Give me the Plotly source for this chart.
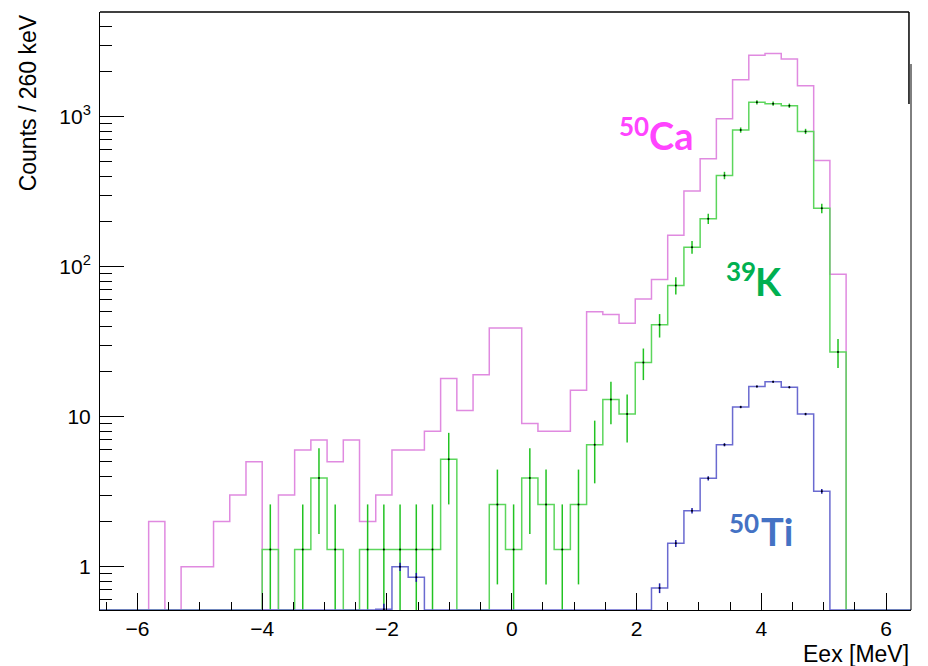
import numpy as np
import plotly.graph_objects as go

# ---------------- data ----------------
BIN_LO = -6.6          # MeV, lower edge of first bin
BIN_WIDTH = 0.26       # MeV (260 keV)
N_BINS = 50

# 50Ca counts per bin
ca50 = [0, 0, 0, 2, 0, 1, 1, 2, 3, 5,
        0, 3, 6, 7, 5, 7, 2, 3, 6, 6,
        8, 18, 11, 19, 39, 39, 9, 8, 8, 15,
        50, 48, 42, 61, 82, 162, 320, 525, 970, 1765,
        2564, 2643, 2425, 1610, 511, 89, 0, 0, 0, 0]

# 39K (weighted) counts per bin
k39 = [0, 0, 0, 0, 0, 0, 0, 0, 0, 0,
       1.3, 0, 1.3, 3.9, 1.3, 0, 1.3, 1.3, 1.3, 1.3,
       1.3, 5.2, 0, 0, 2.6, 1.3, 3.9, 2.6, 1.3, 2.6,
       6.5, 13, 10.4, 23, 41, 75, 135, 209, 406, 815,
       1247, 1221, 1184, 798, 245, 27, 0, 0, 0, 0]

# 50Ti (scaled) counts per bin
ti50 = [0, 0, 0, 0, 0, 0, 0, 0, 0, 0,
        0, 0, 0, 0, 0, 0, 0, 0.52, 1.0, 0.85,
        0, 0, 0, 0, 0, 0, 0, 0, 0, 0,
        0, 0, 0, 0, 0.72, 1.43, 2.36, 3.88, 6.5, 11.6,
        15.9, 17.1, 15.7, 10.4, 3.18, 0, 0, 0, 0, 0]

K39_WEIGHT = 1.3      # weight per entry of the 39K histogram
TI50_WEIGHT = 0.004   # weight per entry of the 50Ti histogram

x_ticks = [-6, -4, -2, 0, 2, 4, 6]
y_ticks = [1, 10, 100, 1000]
y_ticktext = ["1", "10", "10<sup>2</sup>", "10<sup>3</sup>"]

# ---------------- construction ----------------
Y_LOG_MIN, Y_LOG_MAX = -0.289, 3.698
floor_val = 10 ** Y_LOG_MIN

edges = BIN_LO + BIN_WIDTH * np.arange(N_BINS + 1)
centers = edges[:-1] + BIN_WIDTH / 2


def step_xy(vals):
    v = np.asarray(vals, float)
    v = np.where(v > 0, v, floor_val)
    return edges, np.append(v, v[-1])


def err_trace(vals, weight, color, name):
    v = np.asarray(vals, float)
    m = v > 0
    err = np.sqrt(v[m] * weight)
    lower = v[m] - np.maximum(v[m] - err, floor_val)
    return go.Scatter(
        x=centers[m], y=v[m], mode="markers", name=name, showlegend=False,
        marker=dict(size=2, color="black"),
        error_y=dict(type="data", array=err, arrayminus=lower, symmetric=False,
                     color=color, thickness=1.5, width=0),
        hoverinfo="skip")


fig = go.Figure()

CA_COL = "#e08ae0"
K_LINE = "#5cd65c"
K_ERR = "#22c322"
TI_LINE = "#6a6ad0"
TI_ERR = "#1a1aa8"

x, y = step_xy(ca50)
fig.add_trace(go.Scatter(x=x, y=y, mode="lines", line=dict(color=CA_COL, width=1.5, shape="hv"),
                         name="50Ca", showlegend=False))
x, y = step_xy(k39)
fig.add_trace(go.Scatter(x=x, y=y, mode="lines", line=dict(color=K_LINE, width=1.5, shape="hv"),
                         name="39K", showlegend=False))
fig.add_trace(err_trace(k39, K39_WEIGHT, K_ERR, "39K err"))
x, y = step_xy(ti50)
fig.add_trace(go.Scatter(x=x, y=y, mode="lines", line=dict(color=TI_LINE, width=1.5, shape="hv"),
                         name="50Ti", showlegend=False))
fig.add_trace(err_trace(ti50, TI50_WEIGHT, TI_ERR, "50Ti err"))

TICK_FONT = dict(family="Liberation Sans, Arial, sans-serif", size=21, color="black")
TITLE_FONT = dict(family="Liberation Sans, Arial, sans-serif", size=23, color="black")

fig.update_layout(
    width=928, height=666,
    margin=dict(l=100, r=17, t=12, b=56),
    paper_bgcolor="white", plot_bgcolor="white",
    showlegend=False,
    font=TICK_FONT,
    xaxis=dict(
        range=[BIN_LO, BIN_LO + N_BINS * BIN_WIDTH],
        tickmode="array", tickvals=x_ticks,
        ticks="inside", ticklen=17, tickwidth=1, tickcolor="black",
        minor=dict(dtick=0.5, tick0=0, ticks="inside", ticklen=8, tickwidth=1, tickcolor="black"),
        showline=True, linecolor="black", linewidth=1, mirror=False,
        showgrid=False, zeroline=False, tickfont=TICK_FONT,
        ticklabelstandoff=0,
    ),
    yaxis=dict(
        type="log", range=[Y_LOG_MIN, Y_LOG_MAX],
        tickmode="array", tickvals=y_ticks, ticktext=y_ticktext,
        ticks="inside", ticklen=24, tickwidth=1, tickcolor="black",
        minor=dict(tickmode="array",
                   tickvals=[0.6, 0.7, 0.8, 0.9] + [d * 10 ** e for e in range(0, 4) for d in range(2, 10)
                                                    if d * 10 ** e < 10 ** Y_LOG_MAX],
                   ticks="inside", ticklen=12, tickwidth=1, tickcolor="black"),
        showline=True, linecolor="black", linewidth=1, mirror=False,
        showgrid=False, zeroline=False, tickfont=TICK_FONT,
        ticklabelstandoff=4,
    ),
)

# frame (top and right edges as in the reference)
fig.add_shape(type="line", xref="paper", yref="paper", x0=0, x1=0.9975, y0=1, y1=1,
              line=dict(color="black", width=1.5))
fig.add_shape(type="line", xref="paper", yref="paper", x0=0.9975, x1=0.9975, y0=1, y1=0.846,
              line=dict(color="black", width=1.5))
fig.add_shape(type="line", xref="paper", yref="paper", x0=1.0, x1=1.0, y0=0.913, y1=0,
              line=dict(color="black", width=1))

# axis titles
fig.add_annotation(text="Counts / 260 keV", xref="paper", yref="paper", x=-0.089, y=1,
                   xanchor="center", yanchor="top", textangle=-90, showarrow=False, font=TITLE_FONT)
fig.add_annotation(text="Eex [MeV]", xref="paper", yref="paper", x=1, y=0,
                   xanchor="right", yanchor="top", yshift=-29, showarrow=False, font=TITLE_FONT)

# isotope labels
LAB_FONT = "Lato, Open Sans, sans-serif"
labels = [
    ("50", 1.96, 2.938, 26, "#ff44ff"), ("Ca", 2.56, 2.878, 38, "#ff44ff"),
    ("39", 3.676, 1.968, 26, "#00b050"), ("K", 4.117, 1.905, 38, "#00b050"),
    ("50", 3.724, 0.288, 26, "#4472c4"), ("Ti", 4.245, 0.238, 38, "#4472c4"),
]
for txt, lx, ly, sz, col in labels:
    fig.add_annotation(text=f"<b>{txt}</b>", x=lx, y=ly, xref="x", yref="y",
                       showarrow=False, xanchor="center", yanchor="middle",
                       font=dict(family=LAB_FONT, size=sz, color=col))

fig.write_html("out.html", config={"displayModeBar": False},
               post_script="document.body.style.margin='0px';")
